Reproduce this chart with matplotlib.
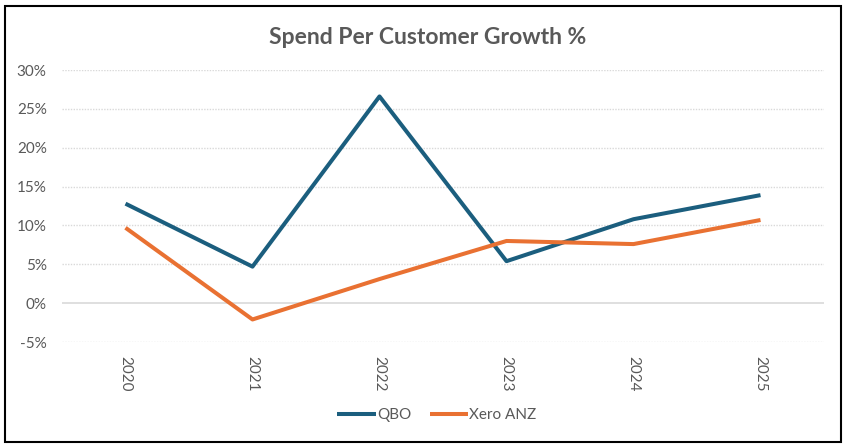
import matplotlib
matplotlib.use("Agg")
import matplotlib.pyplot as plt
from matplotlib.patches import Rectangle
from matplotlib.ticker import FuncFormatter

plt.rcParams['font.family'] = ['Lato', 'DejaVu Sans']

years = ["2020", "2021", "2022", "2023", "2024", "2025"]
qbo = [12.8, 4.7, 26.6, 5.4, 10.8, 13.9]
xero = [9.7, -2.1, 3.1, 8.0, 7.6, 10.7]
yticks = [-5, 0, 5, 10, 15, 20, 25, 30]

W, H = 847, 445
fig = plt.figure(figsize=(W / 100, H / 100), dpi=100)
fig.patch.set_facecolor('white')
ax = fig.add_axes([62 / W, 1 - 342 / H, (824 - 62) / W, (342 - 70) / H])

x = list(range(len(years)))
ax.plot(x, qbo, color='#1B5E7E', lw=2.9, label='QBO', solid_capstyle='butt')
ax.plot(x, xero, color='#E97132', lw=2.9, label='Xero ANZ', solid_capstyle='butt')

ax.set_xlim(-0.5, len(years) - 0.5)
ax.set_ylim(-5, 30)
ax.set_yticks(yticks)
ax.yaxis.set_major_formatter(FuncFormatter(lambda v, p: f"{int(v)}%"))
for t in yticks:
    if t == 0:
        ax.axhline(t, color='#D9D9D9', lw=1.2, zorder=0.5)
    else:
        ax.axhline(t, color='#D9D9D9', lw=1.0, ls=(0, (1, 1)), zorder=0.5)

ax.set_xticks(x)
ax.set_xticklabels(years, rotation=-90)
ax.tick_params(axis='both', length=0, colors='#595959', labelsize=11)
ax.tick_params(axis='x', pad=10)
ax.tick_params(axis='y', pad=11)
for s in ax.spines.values():
    s.set_visible(False)

fig.text(428 / W, 1 - 37 / H, "Spend Per Customer Growth %", ha='center', va='center',
         fontsize=16.5, fontweight='bold', color='#595959')

leg = fig.legend(loc='center', bbox_to_anchor=(437 / W, 1 - 415 / H), ncol=2, frameon=False,
                 fontsize=11, handlelength=2.5, handletextpad=0.1, columnspacing=1.2)
for t in leg.get_texts():
    t.set_color('#595959')

fig.patches.append(Rectangle((5 / W, 1 - 442 / H), 836 / W, 436 / H, transform=fig.transFigure,
                             fill=False, edgecolor='black', lw=1.5))

fig.savefig('out.png', dpi=100)
